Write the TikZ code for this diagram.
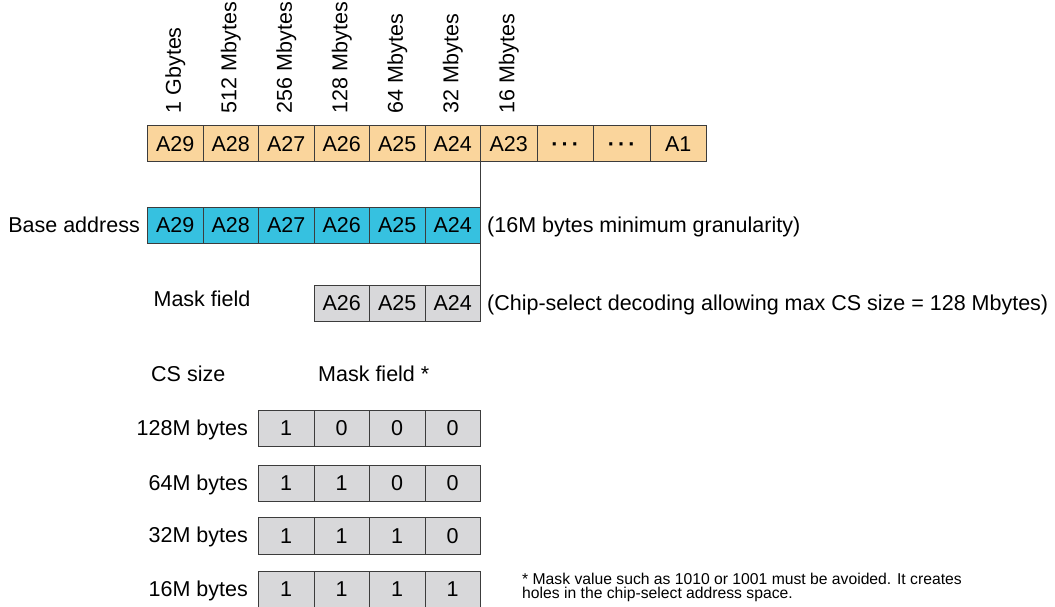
\documentclass[tikz,border=0pt]{standalone}
\usepackage{fontspec}
\setmainfont{Liberation Sans}
\definecolor{org}{HTML}{FAD59C}
\definecolor{blu}{HTML}{36C1E0}
\definecolor{gry}{HTML}{D8D8DA}
\definecolor{edge}{HTML}{3C3C3C}
\begin{document}
\begin{tikzpicture}[x=1pt,y=-1pt,
  every node/.style={font=\fontsize{21.5}{24}\selectfont, inner sep=0pt, text=black},
  cell/.style={draw=edge, line width=0.9pt, minimum height=36.5pt, minimum width=55.5pt,
    text height=15.4pt, text depth=0pt, anchor=north west},
  wcell/.style={cell, minimum width=56.5pt},
  lbl/.style={text height=15.4pt, text depth=0pt},
  toplbl/.style={rotate=90, anchor=base west},
  link/.style={draw=edge, line width=1pt}]
\useasboundingbox (0,0) rectangle (1055,607);

% top address row
\foreach \t [count=\i from 0] in {A29,A28,A27,A26,A25,A24}
  \node[cell, fill=org] (t\i) at (147+55.5*\i,125) {\t};
\node[wcell, fill=org] (t6) at (480,125) {A23};
\node[wcell, fill=org] (t7) at (536.5,125) {\textbf{·\kern3pt·\kern3pt·}};
\node[wcell, fill=org] (t8) at (593,125) {\textbf{·\kern3pt·\kern3pt·}};
\node[wcell, fill=org] (t9) at (649.5,125) {A1};

% size labels
\foreach \t [count=\i from 0] in {1 Gbytes,512 Mbytes,256 Mbytes,128 Mbytes,64 Mbytes,32 Mbytes}
  \node[toplbl] (l\i) at (147+55.5*\i+27.75+6,113.5) {\t};
\node[toplbl] (l6) at (508.25+6,113.5) {16 Mbytes};

% base address row
\foreach \t [count=\i from 0] in {A29,A28,A27,A26,A25,A24}
  \node[cell, fill=blu] (b\i) at (147+55.5*\i,206.5) {\t};
\node[lbl, anchor=east] (blab) at (140,224.75) {Base address};
\node[lbl, anchor=west] (bnote) at (487,224.75) {(16M bytes minimum granularity)};

% mask field row
\foreach \t [count=\i from 0] in {A26,A25,A24}
  \node[cell, fill=gry] (m\i) at (313.5+55.5*\i,284.5) {\t};
\node[lbl] (mlab) at (202,299) {Mask field};
\node[lbl, anchor=west] (mnote) at (487,302.75) {(Chip-select decoding allowing max CS size = 128 Mbytes)};

% connector line
\draw[link] (t5.south east) -- (m2.south east);

% table
\node[lbl, anchor=west] (cshead) at (151,374) {CS size};
\node[lbl, anchor=west] (mfhead) at (318,374) {Mask field *};

\foreach \y/\lab/\a/\b/\c/\d [count=\r] in
  {409.5/128M bytes/1/0/0/0, 464.5/64M bytes/1/1/0/0, 517/32M bytes/1/1/1/0, 570.5/16M bytes/1/1/1/1}{
  \node[lbl, anchor=east] (s\r) at (248,\y+18.25) {\lab};
  \node[cell, fill=gry] (r\r c1) at (258,\y) {\a};
  \node[cell, fill=gry] (r\r c2) at (313.5,\y) {\b};
  \node[cell, fill=gry] (r\r c3) at (369,\y) {\c};
  \node[cell, fill=gry] (r\r c4) at (424.5,\y) {\d};
}

% footnote
\node[anchor=north west, align=left, font=\fontsize{15.7}{14.6}\selectfont] (fn) at (522,572.5)
  {* Mask value such as 1010 or 1001 must be avoided. It creates\\holes in the chip-select address space.};
\end{tikzpicture}
\end{document}
